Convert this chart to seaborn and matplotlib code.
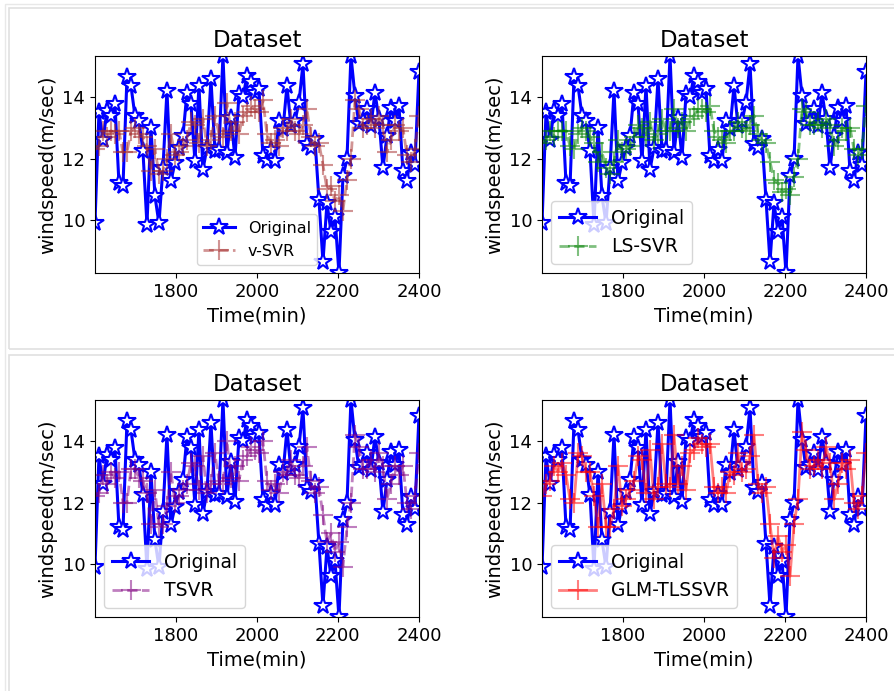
import matplotlib
matplotlib.use("Agg")
import matplotlib.pyplot as plt
import numpy as np
import seaborn as sns
from matplotlib.patches import Rectangle

# wind speed readings (m/sec)
original = [9.89, 13.5, 12.6, 13.55, 13.39, 13.77, 11.2, 11.09, 14.64, 14.37,
            13.39, 13.22, 12.24, 9.84, 13.0, 10.77, 9.89, 11.7, 14.21, 11.26,
            11.86, 12.35, 12.73, 14.15, 13.77, 11.91, 14.37, 11.64, 12.35, 14.59,
            12.24, 12.29, 15.35, 12.19, 13.33, 12.02, 14.1, 13.99, 14.7, 14.48,
            14.15, 14.26, 12.08, 11.91, 12.29, 11.91, 13.22, 12.95, 14.37, 13.06,
            13.22, 13.82, 15.08, 12.46, 12.35, 12.62, 10.66, 8.63, 10.55, 9.62,
            10.11, 8.27, 11.42, 11.97, 15.35, 14.04, 13.12, 13.22, 13.61, 13.06,
            14.15, 13.28, 11.69, 12.73, 13.66, 13.22, 13.72, 11.58, 11.26, 12.19,
            11.8, 14.81]

v_svr = [12.3, 12.4, 12.9, 12.7, 12.9, 12.8, 12.9, 12.2, 12.2, 12.9,
         13.0, 12.8, 12.7, 12.4, 11.6, 12.3, 11.5, 11.6, 12.0, 12.8,
         12.1, 12.2, 12.4, 12.6, 13.2, 13.1, 12.5, 13.3, 12.4, 12.6,
         13.4, 12.8, 12.7, 13.8, 12.9, 13.2, 12.8, 13.4, 13.5, 13.7,
         13.6, 13.5, 13.9, 12.8, 12.5, 12.6, 12.4, 13.0, 12.9, 13.3,
         12.9, 12.8, 13.1, 13.6, 12.7, 12.4, 12.5, 11.8, 11.0, 11.1,
         10.6, 10.8, 10.3, 11.3, 12.0, 13.9, 13.6, 13.0, 13.1, 13.3,
         13.0, 13.4, 13.1, 12.2, 12.6, 13.1, 12.9, 13.0, 12.1, 11.9,
         12.3, 13.4]

ls_svr = [12.5, 12.6, 12.9, 12.7, 12.9, 12.9, 12.9, 12.4, 12.3, 12.8,
          13.0, 12.9, 12.7, 12.5, 11.9, 12.2, 11.7, 11.5, 11.9, 12.6,
          12.2, 12.3, 12.4, 12.7, 13.1, 13.0, 12.7, 13.2, 12.6, 12.8,
          13.3, 12.9, 12.9, 13.6, 13.0, 13.2, 12.9, 13.3, 13.4, 13.6,
          13.6, 13.5, 13.7, 12.9, 12.7, 12.6, 12.5, 12.9, 12.9, 13.2,
          13.0, 12.9, 13.1, 13.4, 12.8, 12.6, 12.5, 11.9, 11.3, 11.2,
          10.9, 11.0, 10.8, 11.4, 12.0, 13.6, 13.5, 13.1, 13.1, 13.2,
          13.0, 13.3, 13.1, 12.4, 12.6, 13.0, 12.9, 13.0, 12.3, 12.1,
          12.3, 13.7]

tsvr = [12.2, 12.3, 12.9, 12.6, 13.0, 12.8, 13.0, 12.0, 12.0, 13.1,
        13.1, 12.8, 12.7, 12.3, 11.3, 12.4, 11.2, 11.3, 11.9, 13.0,
        12.0, 12.2, 12.4, 12.6, 13.3, 13.2, 12.4, 13.5, 12.3, 12.6,
        13.6, 12.7, 12.6, 14.0, 12.8, 13.2, 12.7, 13.4, 13.5, 13.8,
        13.7, 13.6, 14.0, 12.7, 12.4, 12.6, 12.3, 13.0, 12.9, 13.4,
        12.9, 12.8, 13.2, 13.8, 12.7, 12.3, 12.5, 11.6, 10.7, 11.0,
        10.4, 10.7, 9.9, 11.2, 12.0, 14.2, 13.8, 13.1, 13.1, 13.4,
        13.0, 13.6, 13.2, 12.1, 12.6, 13.2, 12.9, 13.2, 12.0, 11.8,
        12.2, 13.6]

glm_tlssvr = [12.2, 12.6, 12.7, 13.2, 13.0, 13.3, 12.9, 12.1, 12.0, 13.6,
              13.5, 13.0, 13.0, 12.2, 11.2, 12.6, 11.2, 11.2, 11.8, 13.2,
              11.9, 12.1, 12.4, 12.7, 13.5, 13.4, 12.3, 13.7, 12.1, 12.5,
              13.9, 12.6, 12.5, 14.2, 12.6, 13.2, 12.4, 13.6, 13.7, 14.1,
              13.9, 13.8, 13.9, 12.5, 12.3, 12.5, 12.3, 13.0, 12.9, 13.6,
              13.0, 13.1, 13.5, 14.2, 12.6, 12.3, 12.5, 11.3, 10.2, 10.9,
              10.4, 10.6, 9.6, 11.3, 12.1, 14.3, 13.7, 13.1, 13.2, 13.4,
              13.1, 13.8, 13.3, 12.1, 12.6, 13.3, 13.1, 13.4, 12.0, 11.8,
              12.2, 13.6]

time = np.linspace(1601, 2400, len(original))

panels = [
    ("v-SVR", v_svr, "brown", "--", "lower center", 11.5),
    ("LS-SVR", ls_svr, "green", "--", "lower left", 13.5),
    ("TSVR", tsvr, "purple", "--", "lower left", 13.5),
    ("GLM-TLSSVR", glm_tlssvr, "red", "-", "lower left", 13.5),
]

fig = plt.figure(figsize=(8.95, 6.91), dpi=100)

# notebook-style output frames
fig.patches.append(Rectangle((9 / 895, 1 - 349 / 691), 1, 341 / 691, transform=fig.transFigure,
                             fill=False, edgecolor="#e0e0e0", linewidth=1.2))
fig.patches.append(Rectangle((9 / 895, -0.01), 1, 1 - 355 / 691 + 0.01, transform=fig.transFigure,
                             fill=False, edgecolor="#e0e0e0", linewidth=1.2))
fig.patches.append(Rectangle((5 / 895, -0.01), 1, 1 - 4 / 691 + 0.01, transform=fig.transFigure,
                             fill=False, edgecolor="#e8e8e8", linewidth=1.0))

boxes = [(0.1061, 0.6049), (0.6056, 0.6049), (0.1061, 0.1071), (0.6056, 0.1071)]

for (name, pred, color, ls, loc, lfs), (x0, y0) in zip(panels, boxes):
    ax = fig.add_axes([x0, y0, 0.3620, 0.3145])
    sns.lineplot(x=time, y=original, ax=ax, color="blue", marker="*", markersize=13,
                 markerfacecolor="white", markeredgecolor="blue", markeredgewidth=1.5,
                 linewidth=2.2, label="Original")
    sns.lineplot(x=time, y=pred, ax=ax, color=color, linestyle=ls, marker="+", markersize=14,
                 markeredgecolor=color, markeredgewidth=1.5, linewidth=2, alpha=0.5, label=name)
    ax.set_xlim(1601, 2400)
    ax.set_ylim(min(original), max(original))
    ax.set_title("Dataset", fontsize=16.5)
    ax.set_xlabel("Time(min)", fontsize=14)
    ax.set_ylabel("windspeed(m/sec)", fontsize=14)
    ax.tick_params(labelsize=13)
    ax.legend(loc=loc, fontsize=lfs)

fig.savefig("out.png", dpi=100)
